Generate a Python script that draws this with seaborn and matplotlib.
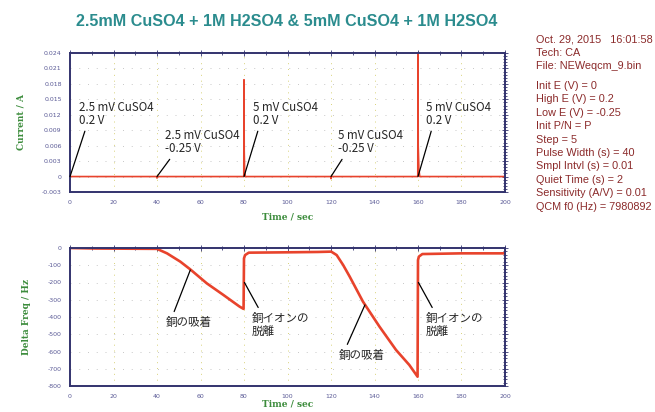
import matplotlib
matplotlib.use("Agg")
import matplotlib.pyplot as plt
import matplotlib.ticker as mticker
import seaborn as sns
import pandas as pd

# ---- data ----
cur_t = [0, 0.01, 39.9, 40.0, 40.1, 79.9, 80.0, 80.1, 80.3, 80.6, 119.9, 120.0, 120.1,
         159.9, 160.0, 160.1, 160.4, 160.8, 200]
cur_i = [0, 0, 0, -0.0003, 0, 0, 0.0188, 0.0050, 0.0010, 0, 0, -0.0004, 0,
         0, 0.0300, 0.0060, 0.0015, 0, 0]

freq_t = [0, 12, 40, 44.6, 50.7, 55.3, 62.9, 70.5, 78.0, 79.8, 80.0, 80.5, 82.2, 100, 114,
          120.1, 122.6, 125.6, 128.6, 134.7, 142.3, 149.9, 156.0, 159.8, 160.0, 160.4, 162, 180, 200]
freq_v = [0, -3, -5, -31, -79, -124, -205, -272, -340, -353, -60, -41, -27, -25, -23,
          -21, -41, -99, -166, -311, -456, -591, -678, -746, -70, -50, -35, -31, -31]

title = "2.5mM CuSO4 + 1M H2SO4 & 5mM CuSO4 + 1M H2SO4"
info_head = ["Oct. 29, 2015   16:01:58", "Tech: CA", "File: NEWeqcm_9.bin"]
info_params = ["Init E (V) = 0", "High E (V) = 0.2", "Low E (V) = -0.25", "Init P/N = P",
               "Step = 5", "Pulse Width (s) = 40", "Smpl Intvl (s) = 0.01",
               "Quiet Time (s) = 2", "Sensitivity (A/V) = 0.01", "QCM f0 (Hz) = 7980892"]

top_ann = [("2.5 mV CuSO4\n0.2 V", 0, 0), ("2.5 mV CuSO4\n-0.25 V", 40, 0),
           ("5 mV CuSO4\n0.2 V", 80, 0), ("5 mV CuSO4\n-0.25 V", 120, 0),
           ("5 mV CuSO4\n0.2 V", 160, 0)]
bot_ann = [("銅の吸着", 55.3, -128), ("銅イオンの\n脱離", 80.2, -200),
           ("銅の吸着", 135.6, -330), ("銅イオンの\n脱離", 160.2, -200)]

# ---- style ----
sns.set_style("white")
plt.rcParams['font.family'] = ['DejaVu Sans']
plt.rcParams['axes.unicode_minus'] = False

W, H = 655, 412
fig = plt.figure(figsize=(W / 100, H / 100), dpi=100)

def fx(px):
    return px / W

def fy(py):
    return 1 - py / H

ax1 = fig.add_axes([fx(70), fy(192), fx(505) - fx(70), fy(53) - fy(192)])
ax2 = fig.add_axes([fx(70), fy(386), fx(505) - fx(70), fy(248) - fy(386)])

line_col = "#e8432c"
spine_col = "#33336e"
tick_col = "#5a5a96"
green = "#3c8c3c"

df_c = pd.DataFrame({"t": cur_t, "i": cur_i})
df_f = pd.DataFrame({"t": freq_t, "f": freq_v})
sns.lineplot(data=df_c, x="t", y="i", ax=ax1, color=line_col, lw=1.2, sort=False,
             estimator=None)
sns.lineplot(data=df_f, x="t", y="f", ax=ax2, color=line_col, lw=1.9, sort=False,
             estimator=None)

ax1.set_ylim(-0.003, 0.024)
ax1.yaxis.set_major_locator(mticker.MultipleLocator(0.003))
ax1.yaxis.set_major_formatter(mticker.FuncFormatter(lambda v, p: "0" if abs(v) < 1e-9 else f"{v:.3f}"))
ax1.yaxis.set_minor_locator(mticker.MultipleLocator(0.0006))
ax2.set_ylim(-800, 0)
ax2.yaxis.set_major_locator(mticker.MultipleLocator(100))
ax2.yaxis.set_minor_locator(mticker.MultipleLocator(20))

for ax in (ax1, ax2):
    ax.set_xlim(0, 200)
    ax.xaxis.set_major_locator(mticker.MultipleLocator(20))
    ax.xaxis.set_minor_locator(mticker.MultipleLocator(10))
    for s in ax.spines.values():
        s.set_color(spine_col)
        s.set_linewidth(1.4)
        s.set_visible(True)
    ax.tick_params(which="both", direction="inout", colors=spine_col, labelcolor=tick_col,
                   labelsize=4.5, top=True, right=True, width=0.6)
    ax.tick_params(which="major", length=5)
    ax.tick_params(which="minor", length=3)
    ax.grid(False)
    for xv in range(20, 200, 20):
        ax.axvline(xv, color="#d8d27a", lw=0.7, ls=(0, (1, 5)), zorder=0)
    for yv in ax.get_yticks()[1:-1]:
        ax.axhline(yv, color="#c8c8c8", lw=0.7, ls=(0, (1, 8)), zorder=0)

ax1.set_xlabel("Time / sec", fontsize=6.5, color=green, family="DejaVu Serif",
               fontweight="bold", labelpad=5)
ax2.set_xlabel("Time / sec", fontsize=6.5, color=green, family="DejaVu Serif",
               fontweight="bold", labelpad=0)
ax1.set_ylabel("Current / A", fontsize=6.5, color=green, family="DejaVu Serif",
               fontweight="bold", labelpad=12)
ax2.set_ylabel("Delta Freq / Hz", fontsize=6.5, color=green, family="DejaVu Serif",
               fontweight="bold", labelpad=12)

# annotations
ann_font = ['Noto Sans CJK JP', 'DejaVu Sans']
top_pos = [(4.1, 0.0097), (43.9, 0.0042), (84.0, 0.0097), (123.4, 0.0042), (163.7, 0.0097)]
for (txt, x, y), (tx, ty) in zip(top_ann, top_pos):
    ax1.annotate(txt, xy=(x, y), xytext=(tx, ty), textcoords="data",
                 fontsize=8.3, family=ann_font, ha="left", va="bottom", linespacing=0.95,
                 arrowprops=dict(arrowstyle="-", color="black", lw=0.9,
                                 shrinkA=1, shrinkB=0, relpos=(0.1, 0.0)))

bot_pos = [(43.9, -395), (83.7, -371), (123.4, -585), (163.7, -371)]
for (txt, x, y), (tx, ty) in zip(bot_ann, bot_pos):
    ax2.annotate(txt, xy=(x, y), xytext=(tx, ty), textcoords="data",
                 fontsize=8.3, family=ann_font, ha="left", va="top", linespacing=0.95,
                 arrowprops=dict(arrowstyle="-", color="black", lw=0.9,
                                 shrinkA=1, shrinkB=0, relpos=(0.15, 1.0)))

fig.text(fx(287), fy(22), title, ha="center", va="center", fontsize=11.6,
         fontweight="bold", color="#2b8c8e", family="Liberation Sans")

ty = 39
for s in info_head:
    fig.text(fx(536), fy(ty), s, ha="left", va="center", fontsize=7.8,
             color="#8b2a2a", family="Liberation Sans")
    ty += 13.5
ty = 86
for s in info_params:
    fig.text(fx(536), fy(ty), s, ha="left", va="center", fontsize=7.8,
             color="#8b2a2a", family="Liberation Sans")
    ty += 13.4

fig.savefig("out.png", dpi=100)
